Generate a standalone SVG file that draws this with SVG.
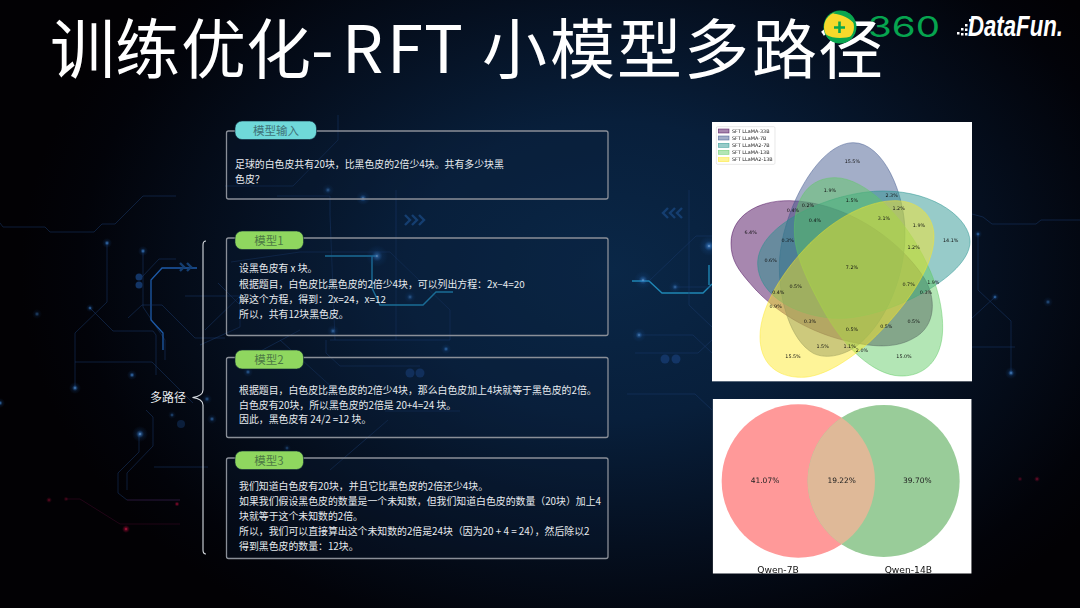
<svg xmlns="http://www.w3.org/2000/svg" width="1080" height="608" viewBox="0 0 1080 608">
<style>
text{font-family:"Noto Sans CJK SC","Noto Sans",sans-serif}
.title{font-size:65px;fill:#fff;font-weight:400}
.panel{fill:#0a1f3c;fill-opacity:.25;stroke:#8a8f98;stroke-width:1.3}
.body{font-size:9.9px;fill:#e6eaee}
.pillA{fill:#6fd9d9;stroke:#0d2238;stroke-width:.6}
.pillB{fill:#8fd75f;stroke:#0d2238;stroke-width:.6}
.pt{font-size:11.5px;text-anchor:middle}
.c1{fill:none;stroke:#1a3a6c;stroke-width:1;opacity:.5}
.c2{fill:none;stroke:#1d5aa8;stroke-width:1.3}
.c3{fill:none;stroke:#1f86b4;stroke-width:1.4}
.c4{fill:none;stroke:#3a0a26;stroke-width:1;opacity:.55}
.dot{fill:#133566}
.gb{fill:url(#gBlue)}
.gr{fill:url(#gRed)}
.chev{fill:none;stroke:#153e70;stroke-width:2.4}
.v{stroke-width:2;fill-opacity:.47;stroke-opacity:.7}
.vt{font-family:"DejaVu Sans",sans-serif;font-size:14.5px;fill:#111;text-anchor:middle}
.lt{font-family:"DejaVu Sans",sans-serif;font-size:14.7px;fill:#222}
.qt{font-family:"DejaVu Sans",sans-serif;font-size:22.5px;fill:#222;text-anchor:middle}
.ql{font-family:"DejaVu Sans",sans-serif;font-size:27.5px;fill:#111;text-anchor:middle}
</style>
<defs>
<radialGradient id="bg" gradientUnits="userSpaceOnUse" cx="610" cy="270" r="590" gradientTransform="translate(610 270) scale(1 .72) translate(-610 -270)">
<stop offset="0" stop-color="#0a2747"/><stop offset=".35" stop-color="#081f3b"/><stop offset=".65" stop-color="#050f1f"/><stop offset=".9" stop-color="#020309"/><stop offset="1" stop-color="#020104"/>
</radialGradient>
<radialGradient id="gBlue"><stop offset="0" stop-color="#a8ccf8" stop-opacity=".9"/><stop offset=".14" stop-color="#3f86d6" stop-opacity=".65"/><stop offset=".5" stop-color="#1d5fb0" stop-opacity=".16"/><stop offset="1" stop-color="#1d5fb0" stop-opacity="0"/></radialGradient>
<radialGradient id="gRed"><stop offset="0" stop-color="#f0204f"/><stop offset=".3" stop-color="#b00a38" stop-opacity=".55"/><stop offset="1" stop-color="#80082c" stop-opacity="0"/></radialGradient>
<filter id="soft" x="-5%" y="-5%" width="110%" height="110%"><feGaussianBlur stdDeviation=".25"/></filter>
<clipPath id="q1"><circle cx="265" cy="258" r="230"/></clipPath>
<clipPath id="qImg"><rect x="8" y="12" width="777" height="524"/></clipPath>
</defs>

<g id="background">
<rect width="1080" height="608" fill="url(#bg)"/>
<g class="circuit">
<path class="c1" d="M0 223L3 227H45L50 232H94L102 224H115L143 196H176"/>
<path class="c1" d="M107 243V302L75 333V388"/>
<path class="c1" d="M90 308L113 331H153L156 335V375"/>
<path class="c1" d="M143 251V307L155 325L165 340V360"/>
<path class="c1" d="M176 259H159L142 277"/>
<path class="c2" d="M197 268H162L151 280V320L163 333V350"/>
<path class="c1" d="M128 318L142 305H162L195 338H225"/>
<path class="c1" d="M75 362H152L193 403"/>
<path class="c1" d="M218 283L240 305V327L200 345"/>
<path class="c1" d="M185 296H240L205 330"/>
<path class="c1" d="M139 434V452L118 473V493L127 500H180"/>
<path class="c1" d="M146 410L153 417V446L127 473V490"/>
<path class="c1" d="M154 467H208"/>
<path class="c4" d="M66 499H80L120 524H180"/>
<path class="c4" d="M127 500H180"/>
<path class="c1" d="M338 115V140L293 186H225"/>
<path class="c1" d="M277 196H330V215L335 340"/>
<path class="c1" d="M231 262L300 252H390L450 310V340H330"/>
<path class="c1" d="M396 190V340"/>
<path class="c1" d="M326 340V353L340 366H420"/>
<path class="c1" d="M280 340L335 390"/>
<path class="c1" d="M388 420L330 470"/>
<path class="c1" d="M385 411H460"/>
<path class="c1" d="M240 362L300 330"/>
<path class="c3" d="M325 256H377"/>
<path class="c3" d="M372 256V288L380 305H423L436 292H453"/>
<path class="c3" d="M632 281H649L662 293H703L712 284"/>
<path class="c3" d="M709 265V285"/>
<path class="c1" d="M649 281L696 236H712"/>
<path class="c1" d="M675 287H712"/>
<path class="c1" d="M639 335H693L712 353"/>
<path class="c1" d="M635 353H698L712 340"/>
<path class="c1" d="M689 190V305L712 327"/>
<path class="c1" d="M627 394H695L712 410"/>
<path class="c1" d="M978 234V290L1011 321V373"/>
<path class="c1" d="M995 297L972 318"/>
<path class="c1" d="M972 347H1015"/>
<path class="c1" d="M972 214L983 217L992 224H1036L1041 220H1080"/>
<path class="chev" d="M405 215l5 5l-5 5M412 215l5 5l-5 5M419 215l5 5l-5 5"/>
<path class="chev" d="M668 208l-5 5l5 5M675 208l-5 5l5 5M682 208l-5 5l5 5"/>
<path class="chev" d="M180 263l4 4l-4 4M187 263l4 4l-4 4"/>
<circle class="dot" cx="139" cy="277" r="3.5"/><circle class="dot" cx="139" cy="285" r="3.5"/>
<circle class="dot" cx="410" cy="373" r="4.5"/><circle class="dot" cx="420" cy="373" r="4.5"/>
<circle class="dot" cx="665" cy="359" r="4.5"/><circle class="dot" cx="676" cy="359" r="4.5"/>
<circle class="dot" cx="181" cy="424" r="4" opacity=".5"/>
<circle class="gb" cx="107" cy="243" r="5"/><circle class="gb" cx="143" cy="251" r="5"/><circle class="gb" cx="90" cy="308" r="4"/><circle class="gb" cx="37" cy="314" r="5" opacity=".6"/>
<circle class="gb" cx="75" cy="388" r="6"/><circle class="gb" cx="132" cy="375" r="5"/><circle class="gb" cx="140" cy="434" r="8"/><circle class="gb" cx="172" cy="415" r="4" opacity=".7"/><circle class="gb" cx="207" cy="399" r="5" opacity=".7"/><circle class="gb" cx="212" cy="419" r="5" opacity=".8"/>
<circle class="gb" cx="328" cy="190" r="6" opacity=".8"/><circle class="gb" cx="363" cy="198" r="7"/><circle class="gb" cx="377" cy="256" r="11"/><circle class="gb" cx="410" cy="297" r="6" opacity=".8"/><circle class="gb" cx="333" cy="331" r="6"/><circle class="gb" cx="248" cy="372" r="5"/><circle class="gb" cx="446" cy="349" r="5" opacity=".8"/><circle class="gb" cx="287" cy="448" r="4" opacity=".6"/>
<circle class="gb" cx="643" cy="280" r="9" opacity=".8"/><circle class="gb" cx="675" cy="287" r="6" opacity=".7"/><circle class="gb" cx="709" cy="246" r="10"/><circle class="gb" cx="639" cy="335" r="7" opacity=".8"/>
<circle class="gb" cx="978" cy="234" r="4"/><circle class="gb" cx="995" cy="297" r="4"/><circle class="gb" cx="1048" cy="302" r="5" opacity=".7"/><circle class="gb" cx="1011" cy="373" r="6"/><circle class="gb" cx="0" cy="403" r="5"/>
<circle class="gr" cx="49" cy="500" r="3" opacity=".6"/><circle class="gr" cx="66" cy="499" r="2.5" opacity=".5"/><circle class="gr" cx="126" cy="529" r="4"/><circle class="gr" cx="177" cy="504" r="2.5"/><circle class="gr" cx="1020" cy="479" r="2.5" opacity=".6"/><circle class="gr" cx="1037" cy="479" r="3" opacity=".7"/>
</g>
</g>

<g id="title"><text class="title" y="73" x="50 115 181 246 311 342 387 424 482 550 617 684 752 818">训练优化-RFT小模型多路径</text></g>

<g id="logo-360">
<circle cx="840" cy="27" r="16.5" fill="#0aa64f"/>
<circle cx="839" cy="27" r="15" fill="#f7d92b"/>
<path d="M846 11.5A16 16 0 0 1 855 24C850 19 842 14 833 13.5C837 11 842 10.5 846 11.5Z" fill="#0aa64f"/>
<path d="M825 34A16 16 0 0 0 840 43C846 43 851 40 853 36C845 38 835 40 825 34Z" fill="#0aa64f"/>
<path d="M839.5 21.5V33M834 27.5H845" stroke="#0aa64f" stroke-width="2.6" fill="none"/>
<text x="868" y="37" font-size="29" textLength="72" lengthAdjust="spacingAndGlyphs" style="font-family:Inter,'Noto Sans',sans-serif;font-weight:400" fill="#06a44f">360</text>
</g>

<g id="logo-datafun">
<path d="M957 32h2.5v2.5h-2.5zM961 28h2.5v2.5h-2.5zM961 33h2.5v2.5h-2.5zM965 24h2.5v2.5h-2.5zM965 28.5h2.5v2.5h-2.5zM969 19h2.5v2.5h-2.5zM965 33h2.5v2.5h-2.5z" fill="#fff"/>
<text transform="translate(968 36) scale(.74 1)" font-size="30" fill="#fff" style="font-family:'Liberation Sans',sans-serif;font-style:italic;font-weight:700">DataFun.</text>
</g>

<g id="connectors">
<path d="M206 241Q203 241 203 245V390Q203 396 192.5 397.5Q203 399 203 405V550Q203 554 206 554" fill="none" stroke="#d8dde2" stroke-width="1.1"/>
</g>

<g id="label-multipath"><text x="150" y="402" font-size="12" fill="#e8ebee">多路径</text></g>

<g id="node-input">
<rect class="panel" x="226.5" y="131" width="381.5" height="68" rx="2"/>
<rect class="pillA" x="235" y="121" width="81.5" height="18.5" rx="7"/>
<text class="pt" x="276" y="134.5" fill="#3f7378">模型输入</text>
<text class="body" x="235" y="167.5">足球的白色皮共有20块，比黑色皮的2倍少4块。共有多少块黑</text>
<text class="body" x="235" y="182.5">色皮？</text>
</g>

<g id="node-model1">
<rect class="panel" x="226.5" y="238" width="381.5" height="97.5" rx="2"/>
<rect class="pillB" x="235" y="231" width="68.5" height="18.5" rx="7"/>
<text class="pt" x="269" y="244.5" fill="#4d7a45">模型1</text>
<text class="body" x="239" y="272">设黑色皮有 x 块。</text>
<text class="body" x="239" y="287.5">根据题目，白色皮比黑色皮的2倍少4块，可以列出方程：2x−4=20</text>
<text class="body" x="239" y="302.5">解这个方程，得到：2x=24，x=12</text>
<text class="body" x="239" y="317.5">所以，共有12块黑色皮。</text>
</g>

<g id="node-model2">
<rect class="panel" x="226.5" y="357.5" width="381.5" height="80" rx="2"/>
<rect class="pillB" x="235" y="350" width="68.5" height="19" rx="7"/>
<text class="pt" x="269" y="364" fill="#4d7a45">模型2</text>
<text class="body" x="239" y="393.5">根据题目，白色皮比黑色皮的2倍少4块，那么白色皮加上4块就等于黑色皮的2倍。</text>
<text class="body" x="239" y="408.5">白色皮有20块，所以黑色皮的2倍是 20+4=24 块。</text>
<text class="body" x="239" y="423">因此，黑色皮有 24/2 =12 块。</text>
</g>

<g id="node-model3">
<rect class="panel" x="226.5" y="458" width="381.5" height="100.5" rx="2"/>
<rect class="pillB" x="235" y="451" width="68.5" height="18.5" rx="7"/>
<text class="pt" x="269" y="465" fill="#4d7a45">模型3</text>
<text class="body" x="239" y="489.5">我们知道白色皮有20块，并且它比黑色皮的2倍还少4块。</text>
<text class="body" x="239" y="504.5">如果我们假设黑色皮的数量是一个未知数，但我们知道白色皮的数量（20块）加上4</text>
<text class="body" x="239" y="519.5">块就等于这个未知数的2倍。</text>
<text class="body" x="239" y="534.5">所以，我们可以直接算出这个未知数的2倍是24块（因为20 + 4 = 24），然后除以2</text>
<text class="body" x="239" y="550">得到黑色皮的数量：12块。</text>
</g>

<g id="chart-venn5" transform="translate(710 120) scale(.33333)" filter="url(#soft)">
<rect x="6" y="6" width="780" height="778" fill="#fff"/>
<rect x="19" y="20" width="176" height="113" rx="4" fill="#fff" stroke="#ddd" stroke-width="2"/>
<path class="v" fill="#440154" stroke="#440154" d="M63 370C63 290 140 240 240 242C400 245 560 350 640 470C680 530 680 620 610 655C550 690 470 680 380 655C260 620 170 550 120 490C85 450 63 420 63 370Z"/>
<path class="v" fill="#3b528b" stroke="#3b528b" d="M430 68C520 68 585 220 585 340C585 470 530 600 450 670C410 705 350 720 310 700C240 660 208 540 208 440C208 290 320 68 430 68Z"/>
<path class="v" fill="#21918c" stroke="#21918c" d="M780 365C780 300 680 213 520 213C370 213 143 310 143 430C143 530 270 595 390 595C530 595 780 470 780 365Z"/>
<path class="v" fill="#5ec962" stroke="#5ec962" d="M375 173C470 173 590 300 650 430C690 510 705 600 695 660C680 745 620 770 570 768C490 765 400 680 340 570C285 470 253 400 253 330C253 230 300 173 375 173Z"/>
<path class="v" fill="#fde725" stroke="#fde725" d="M150 650C150 560 220 450 300 370C380 290 480 240 560 242C640 245 672 300 672 350C672 440 590 560 480 665C400 735 330 772 275 772C200 772 150 730 150 650Z"/>
<g>
<rect class="v" x="25" y="27" width="32" height="12" fill="#440154" stroke="#440154"/>
<rect class="v" x="25" y="48" width="32" height="12" fill="#3b528b" stroke="#3b528b"/>
<rect class="v" x="25" y="70" width="32" height="12" fill="#21918c" stroke="#21918c"/>
<rect class="v" x="25" y="91" width="32" height="12" fill="#5ec962" stroke="#5ec962"/>
<rect class="v" x="25" y="113" width="32" height="12" fill="#fde725" stroke="#fde725"/>
<text class="lt" x="66" y="38">SFT LLaMA-33B</text>
<text class="lt" x="66" y="59">SFT LLaMA-7B</text>
<text class="lt" x="66" y="81">SFT LLaMA2-7B</text>
<text class="lt" x="66" y="102">SFT LLaMA-13B</text>
<text class="lt" x="66" y="124">SFT LLaMA2-13B</text>
</g>
<g transform="translate(0 5)">
<text class="vt" x="427" y="123">15.5%</text><text class="vt" x="360" y="212">1.9%</text><text class="vt" x="545" y="227">2.3%</text><text class="vt" x="426" y="242">1.5%</text><text class="vt" x="249" y="272">0.4%</text><text class="vt" x="294" y="257">0.2%</text><text class="vt" x="566" y="264">1.2%</text><text class="vt" x="522" y="294">3.1%</text><text class="vt" x="315" y="301">0.4%</text><text class="vt" x="627" y="315">1.9%</text><text class="vt" x="122" y="338">6.4%</text><text class="vt" x="233" y="360">0.3%</text><text class="vt" x="722" y="360">14.1%</text><text class="vt" x="611" y="382">1.2%</text><text class="vt" x="182" y="420">0.6%</text><text class="vt" x="426" y="441">7.2%</text><text class="vt" x="670" y="486">1.9%</text><text class="vt" x="596" y="493">0.7%</text><text class="vt" x="257" y="500">0.5%</text><text class="vt" x="205" y="516">0.4%</text><text class="vt" x="648" y="516">0.3%</text><text class="vt" x="197" y="560">0.9%</text><text class="vt" x="300" y="604">0.3%</text><text class="vt" x="611" y="604">0.5%</text><text class="vt" x="529" y="619">0.5%</text><text class="vt" x="426" y="627">0.5%</text><text class="vt" x="338" y="678">1.5%</text><text class="vt" x="419" y="678">1.1%</text><text class="vt" x="456" y="692">2.0%</text><text class="vt" x="249" y="708">15.5%</text><text class="vt" x="582" y="708">15.0%</text>
</g>
</g>

<g id="chart-venn2" transform="translate(710 395) scale(.33333)" filter="url(#soft)">
<g clip-path="url(#qImg)">
<rect x="8" y="12" width="777" height="524" fill="#fff"/>
<circle cx="265" cy="258" r="230" fill="#ff9999"/>
<circle cx="521" cy="258" r="228" fill="#99cc99"/>
<circle cx="521" cy="258" r="228" fill="#dfb998" clip-path="url(#q1)"/>
<text class="qt" x="165" y="265">41.07%</text>
<text class="qt" x="395" y="265">19.22%</text>
<text class="qt" x="622" y="265">39.70%</text>
<text class="ql" x="204" y="535">Qwen-7B</text>
<text class="ql" x="595" y="533">Qwen-14B</text>
</g>
</g>
</svg>
